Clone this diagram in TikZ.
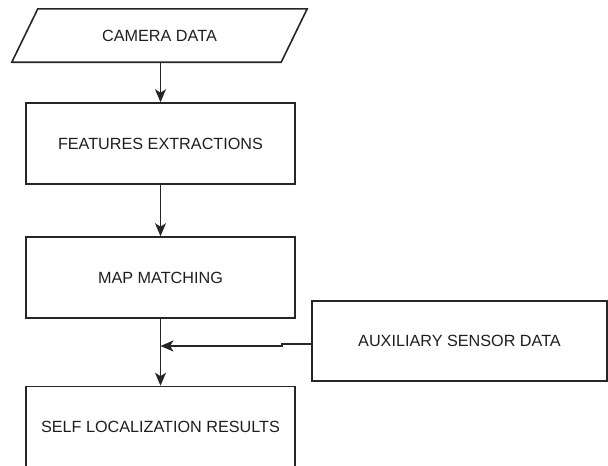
\documentclass[tikz,border=0pt]{standalone}
\usepackage{fontspec}
\setmainfont{Liberation Sans}
\usetikzlibrary{arrows.meta}

\tikzset{
  ink/.style={draw=black!85, line width=1.6pt},
  label/.style={text=black!88, font=\fontsize{16.2}{19}\selectfont, inner sep=0pt},
  stepbox/.style={ink, label, rectangle, minimum width=269pt, minimum height=81pt},
  arr/.style={ink, -{Stealth[length=13pt,width=11pt,inset=3.5pt]}}
}

\begin{document}
\begin{tikzpicture}[x=1pt,y=-1pt]
  \useasboundingbox[fill=white] (0,0) rectangle (608,466);

  % input: a slanted data block
  \node[label, minimum width=269pt, minimum height=53pt] (cam) at (159.5,35.5) {CAMERA DATA};
  \draw[ink, line join=miter]
    ([xshift=-13pt]cam.south west) -- ([xshift=13pt]cam.north west)
    -- ([xshift=13pt]cam.north east) -- ([xshift=-13pt]cam.south east) -- cycle;

  % process chain
  \node[stepbox] (feat) at (160.5,143.5) {FEATURES EXTRACTIONS};
  \node[stepbox] (map)  at (160.5,277.5) {MAP MATCHING};
  \node[stepbox] (self) at (160.5,427)   {SELF LOCALIZATION RESULTS};
  \node[stepbox, minimum width=295pt, minimum height=80pt] (aux) at (459.5,341) {AUXILIARY SENSOR DATA};

  % side input joins the main line with a small jog
  \coordinate (kinkA) at (282,344);
  \coordinate (kinkB) at (282,346);
  \coordinate (join)  at (160.5,346);

  \draw[arr] (cam.south -| feat.north) -- (feat.north);
  \draw[arr] (feat.south) -- (map.north);
  \draw[arr] (map.south) -- (self.north);
  \draw[arr] (aux.west |- kinkA) -- (kinkA) -- (kinkB) -- (join);
\end{tikzpicture}
\end{document}
